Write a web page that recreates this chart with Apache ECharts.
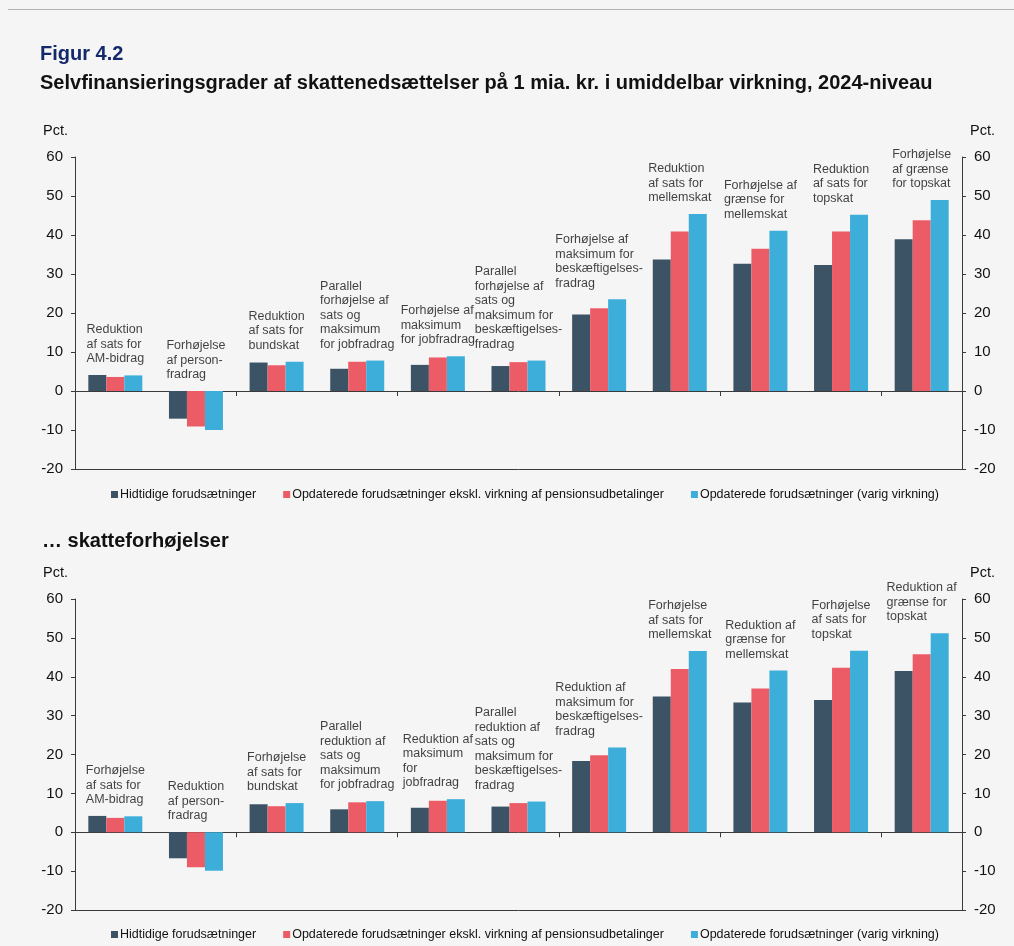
<!DOCTYPE html>
<html>
<head>
<meta charset="utf-8">
<title>Figur 4.2</title>
<script src="https://cdn.jsdelivr.net/npm/echarts@6/dist/echarts.min.js"></script>
<style>
  html, body { margin: 0; padding: 0; background: #f5f5f5; }
</style>
</head>
<body>
<div id="main" style="width:1014px;height:946px;"></div>
<script type="text/javascript">
// serier
var seriesNames = [
  'Hidtidige forudsætninger',
  'Opdaterede forudsætninger ekskl. virkning af pensionsudbetalinger',
  'Opdaterede forudsætninger (varig virkning)'
];
var colors = ['#3c5366', '#ec5c67', '#3daed9'];

// øverste figur: skattenedsættelser
var topLabels = [
  'Reduktion\naf sats for\nAM-bidrag',
  'Forhøjelse\naf person-\nfradrag',
  'Reduktion\naf sats for\nbundskat',
  'Parallel\nforhøjelse af\nsats og\nmaksimum\nfor jobfradrag',
  'Forhøjelse af\nmaksimum\nfor jobfradrag',
  'Parallel\nforhøjelse af\nsats og\nmaksimum for\nbeskæftigelses-\nfradrag',
  'Forhøjelse af\nmaksimum for\nbeskæftigelses-\nfradrag',
  'Reduktion\naf sats for\nmellemskat',
  'Forhøjelse af\ngrænse for\nmellemskat',
  'Reduktion\naf sats for\ntopskat',
  'Forhøjelse\naf grænse\nfor topskat'
];
var topHidtidige = [4.1, -7.1, 7.3, 5.7, 6.7, 6.4, 19.6, 33.7, 32.6, 32.3, 38.9];
var topEkskl     = [3.6, -9.1, 6.6, 7.5, 8.6, 7.4, 21.2, 40.9, 36.5, 40.9, 43.8];
var topVarig     = [4.0, -10.0, 7.5, 7.8, 8.9, 7.8, 23.5, 45.4, 41.1, 45.2, 49.0];

// nederste figur: skatteforhøjelser
var bottomLabels = [
  'Forhøjelse\naf sats for\nAM-bidrag',
  'Reduktion\naf person-\nfradrag',
  'Forhøjelse\naf sats for\nbundskat',
  'Parallel\nreduktion af\nsats og\nmaksimum\nfor jobfradrag',
  'Reduktion af\nmaksimum\nfor\njobfradrag',
  'Parallel\nreduktion af\nsats og\nmaksimum for\nbeskæftigelses-\nfradrag',
  'Reduktion af\nmaksimum for\nbeskæftigelses-\nfradrag',
  'Forhøjelse\naf sats for\nmellemskat',
  'Reduktion af\ngrænse for\nmellemskat',
  'Forhøjelse\naf sats for\ntopskat',
  'Reduktion af\ngrænse for\ntopskat'
];
var bottomHidtidige = [4.2, -6.7, 7.2, 5.9, 6.3, 6.6, 18.3, 34.9, 33.4, 34.0, 41.5];
var bottomEkskl     = [3.7, -9.0, 6.7, 7.7, 8.1, 7.5, 19.8, 42.0, 37.0, 42.3, 45.8];
var bottomVarig     = [4.1, -9.9, 7.5, 8.0, 8.5, 7.9, 21.8, 46.6, 41.6, 46.7, 51.2];

var yTicks = { min: -20, max: 60, interval: 10 };

var FONT = "'Liberation Sans', Arial, sans-serif";
var LABEL_SIZE = 12.5;
var axisColor = '#3a3a3a';
var textColor = '#111';

// bredeste linje i en etiket, så tekstblokken kan centreres over gruppen
var measureCtx = document.createElement('canvas').getContext('2d');
function blockWidth(text) {
  measureCtx.font = LABEL_SIZE + 'px ' + FONT;
  var w = 0;
  text.split('\n').forEach(function (line) {
    w = Math.max(w, measureCtx.measureText(line).width);
  });
  return w;
}

function groupTop(a, b, c) {
  var out = [];
  for (var i = 0; i < a.length; i++) {
    out.push(Math.max(0, a[i], b[i], c[i]));
  }
  return out;
}

function makeGrid(top, height) {
  return { left: 75, width: 887, top: top, height: height, containLabel: false };
}

function makeYAxis(gridIndex, pos) {
  return {
    type: 'value',
    gridIndex: gridIndex,
    position: pos,
    min: yTicks.min, max: yTicks.max, interval: yTicks.interval,
    name: 'Pct.',
    nameLocation: 'end',
    nameGap: 19,
    nameTextStyle: {
      fontFamily: FONT, fontSize: 14.5, color: textColor,
      align: pos === 'left' ? 'right' : 'left',
      padding: pos === 'left' ? [0, 7, 0, 0] : [0, 0, 0, 8]
    },
    axisLine: { show: true, lineStyle: { color: axisColor, width: 1 } },
    axisTick: { show: true, length: 4, lineStyle: { color: axisColor } },
    axisLabel: { fontFamily: FONT, fontSize: 15, color: textColor, margin: 12 },
    splitLine: { show: false }
  };
}

function makeXAxes(gridIndex, labels) {
  return [
    {
      type: 'category', gridIndex: gridIndex, data: labels,
      axisLine: { onZero: true, lineStyle: { color: axisColor, width: 1 } },
      axisTick: { show: true, length: 5, lineStyle: { color: axisColor } },
      axisLabel: { show: false }
    },
    {
      type: 'category', gridIndex: gridIndex, data: labels, position: 'bottom',
      axisLine: { onZero: false, lineStyle: { color: axisColor, width: 1 } },
      axisTick: { show: false },
      axisLabel: { show: false }
    }
  ];
}

function barSeries(name, data, color, xIdx, yIdx) {
  return {
    name: name, type: 'bar', data: data,
    xAxisIndex: xIdx, yAxisIndex: yIdx,
    barWidth: 18, barGap: '0%',
    itemStyle: { color: color },
    emphasis: { disabled: true }
  };
}

function labelSeries(labels, tops, xIdx, yIdx) {
  var items = tops.map(function (v, i) {
    return { value: v, label: { offset: [-blockWidth(labels[i]) / 2, 0] } };
  });
  return {
    type: 'scatter', data: items, xAxisIndex: xIdx, yAxisIndex: yIdx,
    symbolSize: 0, silent: true, z: 5,
    label: {
      show: true, position: 'top', distance: 9,
      align: 'left',
      fontFamily: FONT, fontSize: LABEL_SIZE, lineHeight: 14.5, color: textColor,
      formatter: function (p) { return labels[p.dataIndex]; }
    }
  };
}

function makeLegend(top) {
  return {
    top: top, left: 106,
    data: seriesNames,
    icon: 'rect', itemWidth: 7, itemHeight: 7, itemGap: 27,
    textStyle: { fontFamily: FONT, fontSize: 12.5, color: textColor, padding: [0, 0, 0, -3] },
    selectedMode: false
  };
}

var chart = echarts.init(document.getElementById('main'), null, { renderer: 'canvas' });

var option = {
  backgroundColor: '#f5f5f5',
  animation: false,
  textStyle: { fontFamily: FONT },
  title: [
    { text: 'Figur 4.2', left: 35, top: 39,
      textStyle: { fontFamily: FONT, fontSize: 20, fontWeight: 'bold', color: '#14296b' } },
    { text: 'Selvfinansieringsgrader af skattenedsættelser på 1 mia. kr. i umiddelbar virkning, 2024-niveau',
      left: 35, top: 68,
      textStyle: { fontFamily: FONT, fontSize: 20, fontWeight: 'bold', color: '#111' } },
    { text: '… skatteforhøjelser', left: 37, top: 526,
      textStyle: { fontFamily: FONT, fontSize: 20, fontWeight: 'bold', color: '#111' } }
  ],
  graphic: [
    { type: 'line', shape: { x1: 8, y1: 9.5, x2: 1014, y2: 9.5 },
      style: { stroke: '#b4b4b4', lineWidth: 1 } }
  ],
  legend: [makeLegend(483), makeLegend(923)],
  grid: [makeGrid(157, 312), makeGrid(599, 311)],
  xAxis: makeXAxes(0, topLabels).concat(makeXAxes(1, bottomLabels)),
  yAxis: [makeYAxis(0, 'left'), makeYAxis(0, 'right'), makeYAxis(1, 'left'), makeYAxis(1, 'right')],
  series: [
    barSeries(seriesNames[0], topHidtidige, colors[0], 0, 0),
    barSeries(seriesNames[1], topEkskl, colors[1], 0, 0),
    barSeries(seriesNames[2], topVarig, colors[2], 0, 0),
    labelSeries(topLabels, groupTop(topHidtidige, topEkskl, topVarig), 0, 0),
    barSeries(seriesNames[0], bottomHidtidige, colors[0], 2, 2),
    barSeries(seriesNames[1], bottomEkskl, colors[1], 2, 2),
    barSeries(seriesNames[2], bottomVarig, colors[2], 2, 2),
    labelSeries(bottomLabels, groupTop(bottomHidtidige, bottomEkskl, bottomVarig), 2, 2)
  ]
};

chart.setOption(option);
</script>
</body>
</html>
